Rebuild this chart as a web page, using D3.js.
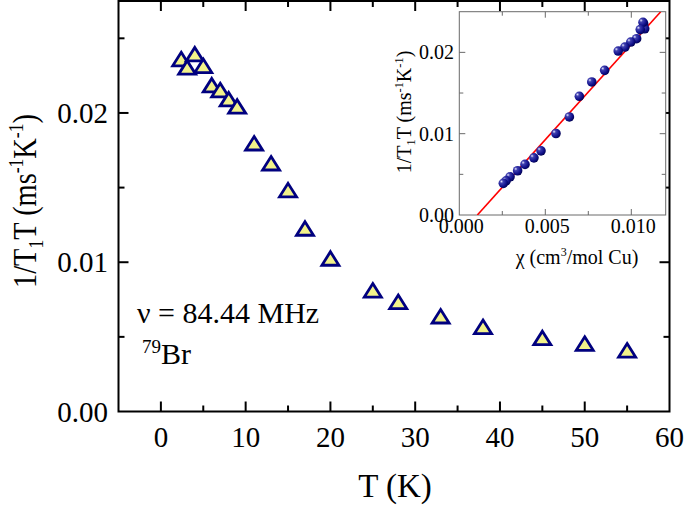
<!DOCTYPE html>
<html><head><meta charset="utf-8">
<script src="https://d3js.org/d3.v7.min.js"></script>
<style>body{margin:0;background:#fff}svg{display:block}</style>
</head><body>
<script>
// Main data: 1/T1T vs T
const temps = [2.4, 3.1, 4, 5, 6, 7, 8, 9, 11, 13, 15, 17, 20, 25, 28, 33, 38, 45, 50, 55];
const rateT1T = [0.02356, 0.0230, 0.02389, 0.02311, 0.02181, 0.02148, 0.02087, 0.02039, 0.01792, 0.01658, 0.01478, 0.01221, 0.0102, 0.00807, 0.0073, 0.00633, 0.00562, 0.00488, 0.0045, 0.00405];
// Inset data: 1/T1T vs chi
const chi = [0.01072, 0.01078, 0.01068, 0.01052, 0.01031, 0.00997, 0.00963, 0.00924, 0.00845, 0.0077, 0.00698, 0.0064, 0.00562, 0.00475, 0.00434, 0.00382, 0.00339, 0.00295, 0.00272, 0.00256];
const insetRate = [0.0235, 0.0229, 0.0237, 0.0228, 0.02168, 0.02127, 0.02065, 0.02016, 0.01779, 0.01636, 0.0146, 0.01206, 0.01002, 0.00789, 0.00703, 0.00622, 0.00544, 0.0047, 0.0042, 0.00389];
const fitChi = [0.00105, 0.01171];
const fitRate = [0, 0.025];
// Tick values
const xTicks = [0, 10, 20, 30, 40, 50, 60];
const xMinor = [-5, 5, 15, 25, 35, 45, 55];
const yTicks = [0, 0.01, 0.02];
const yMinor = [0.005, 0.015, 0.025];
const insetXTicks = [0, 0.005, 0.010];
const insetXMinor = [0.0025, 0.0075];
const insetYTicks = [0, 0.01, 0.02];
const insetYMinor = [0.005, 0.015];
const annotation = "ν = 84.44 MHz";

const W = 685, H = 510;
const svg = d3.select("body").append("svg").attr("width", W).attr("height", H);
const FONT = "'Liberation Serif', 'Times New Roman', serif";

const L = 118.5, R = 669.5, T = 1, B = 411.5;
const x = d3.scaleLinear().domain([-5, 60]).range([L, R]);
const y = d3.scaleLinear().domain([0, 0.0275]).range([B, T]);

// main frame
const g = svg.append("g");
g.append("rect").attr("x", L).attr("y", T).attr("width", R - L).attr("height", B - T)
  .attr("fill", "none").attr("stroke", "#000").attr("stroke-width", 2);

function vticks(vals, len) {
  vals.forEach(v => {
    if (v <= -5 || v >= 60) return;
    g.append("line").attr("x1", x(v)).attr("x2", x(v)).attr("y1", B).attr("y2", B - len).attr("stroke", "#000").attr("stroke-width", 2);
    g.append("line").attr("x1", x(v)).attr("x2", x(v)).attr("y1", T).attr("y2", T + len).attr("stroke", "#000").attr("stroke-width", 2);
  });
}
function hticks(vals, len) {
  vals.forEach(v => {
    if (v <= 0) return;
    g.append("line").attr("y1", y(v)).attr("y2", y(v)).attr("x1", L).attr("x2", L + len).attr("stroke", "#000").attr("stroke-width", 2);
    g.append("line").attr("y1", y(v)).attr("y2", y(v)).attr("x1", R).attr("x2", R - len).attr("stroke", "#000").attr("stroke-width", 2);
  });
}
vticks(xTicks, 10); vticks(xMinor, 6);
hticks(yTicks, 10); hticks(yMinor, 6);

// tick labels
g.selectAll(".xl").data(xTicks).enter().append("text")
  .attr("x", d => x(d)).attr("y", 447).attr("text-anchor", "middle")
  .attr("font-family", FONT).attr("font-size", 29).text(d => d);
g.selectAll(".yl").data(yTicks).enter().append("text")
  .attr("x", 108).attr("y", d => y(d) + 10).attr("text-anchor", "end")
  .attr("font-family", FONT).attr("font-size", 29).text(d => d3.format(".2f")(d));

// axis titles
g.append("text").attr("x", 395).attr("y", 497).attr("text-anchor", "middle")
  .attr("font-family", FONT).attr("font-size", 33).text("T (K)");

function rateTitle(sel, size) {
  const s = size * 0.62;
  sel.append("tspan").text("1/T");
  sel.append("tspan").attr("font-size", s).attr("dy", size * 0.2).text("1");
  sel.append("tspan").attr("dy", -size * 0.2).text("T (ms");
  sel.append("tspan").attr("font-size", s).attr("dy", -size * 0.38).text("-1");
  sel.append("tspan").attr("dy", size * 0.38).text("K");
  sel.append("tspan").attr("font-size", s).attr("dy", -size * 0.38).text("-1");
  sel.append("tspan").attr("dy", size * 0.38).text(")");
}
const yt = g.append("text").attr("transform", "translate(36,201) rotate(-90) scale(0.86,1)")
  .attr("text-anchor", "middle").attr("font-family", FONT).attr("font-size", 33);
rateTitle(yt, 33);

// annotation
g.append("text").attr("x", 137).attr("y", 323).attr("font-family", FONT).attr("font-size", 30).text(annotation);
const br = g.append("text").attr("x", 142).attr("y", 364).attr("font-family", FONT).attr("font-size", 30);
br.append("tspan").attr("font-size", 19).attr("dy", -11).text("79");
br.append("tspan").attr("dy", 11).text("Br");

// triangles
const tri = "M0,-7.5L8.5,6L-8.5,6Z";
g.selectAll(".tri").data(temps).enter().append("path")
  .attr("d", tri)
  .attr("transform", (d, i) => `translate(${x(d)},${y(rateT1T[i])})`)
  .attr("fill", "#f2f28a").attr("stroke", "#00007f").attr("stroke-width", 2.8)
  .attr("stroke-linejoin", "miter");

// ---- inset ----
const iL = 459.3, iR = 665.7, iT = 11.7, iB = 215;
const ix = d3.scaleLinear().domain([0, 0.012]).range([iL, iR]);
const iy = d3.scaleLinear().domain([0, 0.025]).range([iB, iT]);
const ig = svg.append("g");
ig.append("rect").attr("x", iL).attr("y", iT).attr("width", iR - iL).attr("height", iB - iT)
  .attr("fill", "#fff").attr("stroke", "#6a6a6a").attr("stroke-width", 1);

const defs = svg.append("defs");
const grad = defs.append("radialGradient").attr("id", "ball").attr("cx", "0.35").attr("cy", "0.35").attr("r", "0.7")
  .attr("fx", "0.3").attr("fy", "0.3");
grad.append("stop").attr("offset", "0").attr("stop-color", "#e8e8ff");
grad.append("stop").attr("offset", "0.25").attr("stop-color", "#4040b0");
grad.append("stop").attr("offset", "0.7").attr("stop-color", "#10108a");
grad.append("stop").attr("offset", "1").attr("stop-color", "#000050");

const clip = defs.append("clipPath").attr("id", "iclip");
clip.append("rect").attr("x", iL).attr("y", iT).attr("width", iR - iL).attr("height", iB - iT);

function ivt(vals, len) {
  vals.forEach(v => {
    if (v <= 0) return;
    ig.append("line").attr("x1", ix(v)).attr("x2", ix(v)).attr("y1", iB).attr("y2", iB - len).attr("stroke", "#6a6a6a").attr("stroke-width", 1);
    ig.append("line").attr("x1", ix(v)).attr("x2", ix(v)).attr("y1", iT).attr("y2", iT + len).attr("stroke", "#6a6a6a").attr("stroke-width", 1);
  });
}
function iht(vals, len) {
  vals.forEach(v => {
    if (v <= 0) return;
    ig.append("line").attr("y1", iy(v)).attr("y2", iy(v)).attr("x1", iL).attr("x2", iL + len).attr("stroke", "#6a6a6a").attr("stroke-width", 1);
    ig.append("line").attr("y1", iy(v)).attr("y2", iy(v)).attr("x1", iR).attr("x2", iR - len).attr("stroke", "#6a6a6a").attr("stroke-width", 1);
  });
}
ivt(insetXTicks, 6); ivt(insetXMinor, 4);
iht(insetYTicks, 6); iht(insetYMinor, 4);

ig.append("line").attr("clip-path", "url(#iclip)")
  .attr("x1", ix(fitChi[0])).attr("y1", iy(fitRate[0]))
  .attr("x2", ix(fitChi[1])).attr("y2", iy(fitRate[1]))
  .attr("stroke", "#ff0000").attr("stroke-width", 1.6);

ig.selectAll(".ball").data(chi).enter().append("circle")
  .attr("cx", d => ix(d)).attr("cy", (d, i) => iy(insetRate[i])).attr("r", 4.8)
  .attr("fill", "url(#ball)");

ig.selectAll(".ixl").data(insetXTicks).enter().append("text")
  .attr("x", d => ix(d) + 2).attr("y", 233).attr("text-anchor", "middle")
  .attr("font-family", FONT).attr("font-size", 20).text(d => d3.format(".3f")(d));
ig.selectAll(".iyl").data(insetYTicks).enter().append("text")
  .attr("x", 454).attr("y", d => iy(d) + 7).attr("text-anchor", "end")
  .attr("font-family", FONT).attr("font-size", 20).text(d => d3.format(".2f")(d));

const ixt = ig.append("text").attr("x", 577).attr("y", 264).attr("text-anchor", "middle")
  .attr("font-family", FONT).attr("font-size", 20);
ixt.append("tspan").text("χ (cm");
ixt.append("tspan").attr("font-size", 12).attr("dy", -8).text("3");
ixt.append("tspan").attr("dy", 8).text("/mol Cu)");

const iyt = ig.append("text").attr("transform", "translate(411,112) rotate(-90)")
  .attr("text-anchor", "middle").attr("font-family", FONT).attr("font-size", 20);
rateTitle(iyt, 20);
</script>
</body></html>
